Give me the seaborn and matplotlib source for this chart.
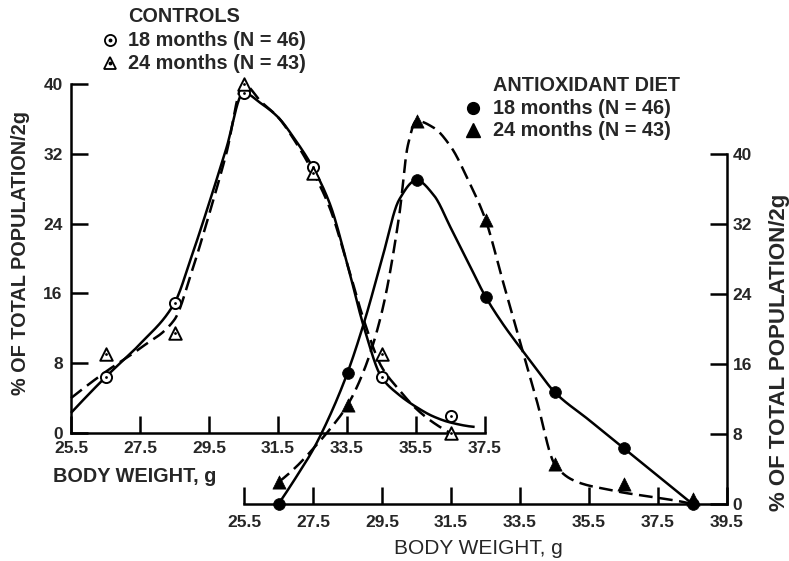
import numpy as np
import pandas as pd
import matplotlib
matplotlib.use("Agg")
import matplotlib.pyplot as plt
import seaborn as sns

# ---- data: % of total population per 2-g body-weight bin ----
ctrl_weight = [26.5, 28.5, 30.5, 32.5, 34.5, 36.5]
ctrl_18mo = [6.4, 14.9, 39.0, 30.5, 6.4, 2.0]
ctrl_24mo = [9.1, 11.5, 40.0, 29.8, 9.1, 0.0]

anti_weight = [26.5, 28.5, 30.5, 32.5, 34.5, 36.5, 38.5]
anti_18mo = [0.0, 15.0, 37.0, 23.7, 12.8, 6.4, 0.0]
anti_24mo = [2.5, 11.3, 43.8, 32.5, 4.6, 2.3, 0.6]

# hand-fitted distribution curves (weight g, % of population)
ctrl_18mo_fit_w = [25.5, 26.5, 27.5, 28.5, 29.0, 29.5, 30.0, 30.5, 31.0, 31.5,
                   32.0, 32.5, 33.0, 33.5, 34.0, 34.5, 35.0, 35.5, 36.0, 36.5, 37.2]
ctrl_18mo_fit = [2.3, 6.4, 10.2, 14.9, 20.3, 26.3, 32.6, 39.0, 37.8, 36.2,
                 33.6, 30.5, 26.3, 19.5, 12.0, 6.4, 4.4, 3.0, 1.9, 1.2, 0.7]

ctrl_24mo_fit_w = [25.5, 26.5, 27.5, 28.5, 29.0, 29.5, 30.0, 30.5, 31.0, 31.5,
                   32.0, 32.5, 33.0, 33.5, 34.0, 34.5, 35.0, 35.5, 36.0, 36.5]
ctrl_24mo_fit = [4.0, 7.0, 9.7, 13.0, 18.5, 25.0, 32.0, 40.0, 38.0, 36.2,
                 33.4, 30.0, 25.8, 19.5, 12.8, 7.6, 5.0, 2.8, 1.2, 0.0]

anti_18mo_fit_w = [26.5, 27.0, 27.5, 28.0, 28.5, 29.0, 29.5, 30.0, 30.5, 31.0,
                   31.5, 32.0, 32.5, 33.0, 33.5, 34.0, 34.5, 35.5, 36.5, 37.5, 38.5]
anti_18mo_fit = [0.0, 3.0, 6.2, 10.2, 15.0, 21.0, 28.0, 34.8, 37.0, 35.3,
                 31.5, 27.6, 23.7, 20.6, 17.9, 15.3, 12.8, 9.6, 6.4, 3.2, 0.0]

anti_24mo_fit_w = [26.5, 27.0, 27.5, 28.0, 28.5, 29.0, 29.5, 30.0, 30.25, 30.5,
                   31.0, 31.5, 32.0, 32.5, 33.0, 33.5, 34.0, 34.5, 35.0, 35.5,
                   36.0, 36.5, 37.0, 37.5, 38.0, 38.5]
anti_24mo_fit = [2.5, 4.2, 6.3, 8.6, 11.3, 15.5, 22.0, 33.0, 41.0, 43.8,
                 43.0, 40.8, 37.0, 32.5, 25.5, 18.6, 11.6, 4.6, 2.8, 2.1,
                 1.7, 1.3, 1.0, 0.7, 0.4, 0.0]

ctrl_xticks = [25.5, 27.5, 29.5, 31.5, 33.5, 35.5, 37.5]
anti_xticks = [25.5, 27.5, 29.5, 31.5, 33.5, 35.5, 37.5, 39.5]
pct_ticks = [0, 8, 16, 24, 32, 40]

Y_LABEL = "% OF TOTAL POPULATION/2g"
X_LABEL = "BODY WEIGHT, g"


def pchip(xk, yk, num=500):
    """Shape-preserving cubic through the curve knots."""
    x = np.asarray(xk, float)
    y = np.asarray(yk, float)
    h = np.diff(x)
    d = np.diff(y) / h
    n = len(x)
    m = np.zeros(n)
    for k in range(1, n - 1):
        if d[k - 1] * d[k] > 0:
            w1 = 2 * h[k] + h[k - 1]
            w2 = h[k] + 2 * h[k - 1]
            m[k] = (w1 + w2) / (w1 / d[k - 1] + w2 / d[k])

    def end(h0, h1, d0, d1):
        mm = ((2 * h0 + h1) * d0 - h0 * d1) / (h0 + h1)
        if np.sign(mm) != np.sign(d0):
            mm = 0.0
        elif np.sign(d0) != np.sign(d1) and abs(mm) > abs(3 * d0):
            mm = 3 * d0
        return mm

    m[0] = end(h[0], h[1], d[0], d[1])
    m[-1] = end(h[-1], h[-2], d[-1], d[-2])
    xs = np.linspace(x[0], x[-1], num)
    i = np.clip(np.searchsorted(x, xs) - 1, 0, n - 2)
    t = (xs - x[i]) / h[i]
    ys = ((2 * t**3 - 3 * t**2 + 1) * y[i] + (t**3 - 2 * t**2 + t) * h[i] * m[i]
          + (-2 * t**3 + 3 * t**2) * y[i + 1] + (t**3 - t**2) * h[i] * m[i + 1])
    return xs, ys


sns.set_theme(style="ticks")
plt.rcParams["font.family"] = ["Liberation Sans", "DejaVu Sans"]

W, H = 789, 561
fig = plt.figure(figsize=(W / 100, H / 100), dpi=100)
fig.patch.set_facecolor("white")

LW = 1.8
ax_c = fig.add_axes([71 / W, (H - 433) / H, 414 / W, 349 / H])
ax_a = fig.add_axes([244 / W, (H - 504) / H, 483 / W, 350 / H])
for ax in (ax_c, ax_a):
    ax.set_facecolor("none")
    ax.set_ylim(0, 40)
    for s in ax.spines.values():
        s.set_linewidth(LW)
        s.set_color("black")

ax_c.set_xlim(25.5, 37.5)
ax_a.set_xlim(25.5, 39.5)
sns.despine(ax=ax_c)
sns.despine(ax=ax_a, left=True, right=False)


def curve(ax, xk, yk, dashed):
    xs, ys = pchip(xk, yk)
    sns.lineplot(x=xs, y=ys, ax=ax, color="black", linewidth=LW,
                 sort=False, estimator=None)
    ln = ax.lines[-1]
    ln.set_clip_on(False)
    ln.set_solid_capstyle("butt")
    if dashed:
        ln.set_dashes([5.5, 2.6])


def markers(ax, x, y, marker, filled, size):
    df = pd.DataFrame({"w": x, "p": y})
    if filled:
        sns.scatterplot(data=df, x="w", y="p", ax=ax, marker=marker, s=size**2,
                        color="black", edgecolor="black", linewidth=0.5,
                        zorder=5, clip_on=False)
    else:
        sns.scatterplot(data=df, x="w", y="p", ax=ax, marker=marker, s=size**2,
                        color="white", edgecolor="black", linewidth=1.4,
                        zorder=5, clip_on=False)
        sns.scatterplot(data=df, x="w", y="p", ax=ax, marker="o", s=4,
                        color="black", linewidth=0, zorder=6, clip_on=False)


curve(ax_c, ctrl_18mo_fit_w, ctrl_18mo_fit, dashed=False)
curve(ax_c, ctrl_24mo_fit_w, ctrl_24mo_fit, dashed=True)
markers(ax_c, ctrl_weight, ctrl_18mo, "o", False, 8)
markers(ax_c, ctrl_weight, ctrl_24mo, "^", False, 9)

curve(ax_a, anti_18mo_fit_w, anti_18mo_fit, dashed=False)
curve(ax_a, anti_24mo_fit_w, anti_24mo_fit, dashed=True)
markers(ax_a, anti_weight, anti_18mo, "o", True, 8.5)
markers(ax_a, anti_weight, anti_24mo, "^", True, 9.5)

tick_font = dict(fontsize=12.5, fontweight="bold")
ax_c.set_xticks(ctrl_xticks, labels=[f"{v:.1f}" for v in ctrl_xticks], **tick_font)
ax_c.set_yticks(pct_ticks, labels=[str(v) for v in pct_ticks], **tick_font)
ax_a.set_xticks(anti_xticks, labels=[f"{v:.1f}" for v in anti_xticks], **tick_font)
ax_a.set_yticks(pct_ticks, labels=[str(v) for v in pct_ticks], **tick_font)

ax_c.tick_params(axis="both", direction="in", length=12, width=LW, color="black")
ax_c.tick_params(axis="x", pad=6)
ax_c.tick_params(axis="y", pad=6)
ax_a.tick_params(axis="both", direction="in", length=12, width=LW, color="black")
ax_a.tick_params(axis="x", pad=8)
ax_a.tick_params(axis="y", left=False, labelleft=False, right=True,
                 labelright=True, pad=4)

# axis titles
ax_c.set_ylabel(Y_LABEL, fontsize=14.3, fontweight="bold")
ax_c.yaxis.label.set_verticalalignment("center")
ax_c.yaxis.set_label_coords((21 - 71) / 414, (433 - 253) / 349)
ax_c.set_xlabel(X_LABEL, fontsize=14.3, fontweight="bold")
ax_c.xaxis.label.set_horizontalalignment("left")
ax_c.xaxis.label.set_verticalalignment("center")
ax_c.xaxis.set_label_coords((53 - 71) / 414, (433 - 476) / 349)

ax_a.yaxis.set_label_position("right")
ax_a.set_ylabel(Y_LABEL, fontsize=16, fontweight="bold")
ax_a.yaxis.label.set_verticalalignment("center")
ax_a.yaxis.label.set_rotation(90)
ax_a.yaxis.set_label_coords((780 - 244) / 483, (504 - 352) / 350)
ax_a.set_xlabel(X_LABEL, fontsize=15)
ax_a.xaxis.label.set_verticalalignment("center")
ax_a.xaxis.set_label_coords((478 - 244) / 483, (504 - 548) / 350)

# keys for the two groups
ax_k = fig.add_axes([0, 0, 1, 1])
ax_k.set_xlim(0, W)
ax_k.set_ylim(H, 0)
ax_k.axis("off")
key_font = dict(fontsize=14.3, fontweight="bold", va="center", ha="left")


def key_marker(x, y, marker, filled, size):
    if filled:
        ax_k.plot([x], [y], marker=marker, ms=size, color="black", ls="none")
    else:
        ax_k.plot([x], [y], marker=marker, ms=size, mfc="white", mec="black",
                  mew=1.3, ls="none")
        ax_k.plot([x], [y], marker="o", ms=1.8, color="black", ls="none")


ax_k.text(128, 16, "CONTROLS", **key_font)
key_marker(110, 40, "o", False, 8)
ax_k.text(128, 40, "18 months (N = 46)", **key_font)
key_marker(110, 63, "^", False, 9)
ax_k.text(128, 63, "24 months (N = 43)", **key_font)

ax_k.text(493, 85, "ANTIOXIDANT DIET", **key_font)
key_marker(473, 108, "o", True, 8.5)
ax_k.text(493, 108, "18 months (N = 46)", **key_font)
key_marker(473, 130, "^", True, 9.5)
ax_k.text(493, 130, "24 months (N = 43)", **key_font)

fig.savefig("out.png", dpi=100, facecolor="white")
